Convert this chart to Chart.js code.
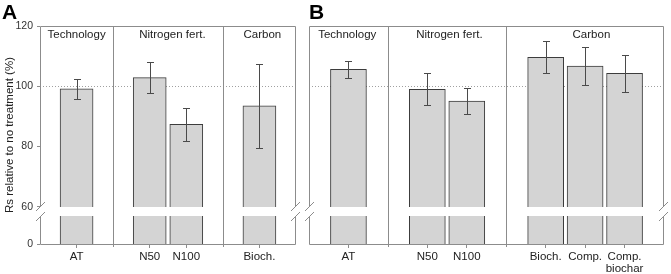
<!DOCTYPE html>
<html>
<head>
<meta charset="utf-8">
<script src="https://cdn.jsdelivr.net/npm/chart.js@4.4.1/dist/chart.umd.min.js"></script>
<style>
  html, body { margin: 0; padding: 0; background: #fff; }
  #wrap { position: relative; width: 671px; height: 274px; }
  .pane { position: absolute; top: 0; }
</style>
</head>
<body>
<div id="wrap">
  <div class="pane" style="left:0"><canvas id="chartA" width="300" height="274"></canvas></div>
  <div class="pane" style="left:300px"><canvas id="chartB" width="371" height="274"></canvas></div>
</div>
<script>
// --- data ---
const groupNames = ['Technology', 'Nitrogen fert.', 'Carbon'];

// panel A
const catsA = ['AT', 'N50', 'N100', 'Bioch.'];
const posA = [1, 3, 4, 6];            // slot positions on the x axis
const valsA = [99.2, 102.9, 87.4, 93.5];
const errA = [3.3, 5.0, 5.5, 13.8];
const sepsA = [2, 5];
const groupPosA = [1, 3.62, 6.08];

// panel B
const catsB = ['AT', 'N50', 'N100', 'Bioch.', 'Comp.', 'Comp.\nbiochar'];
const posB = [1, 3, 4, 6, 7, 8];
const valsB = [105.6, 99.0, 95.1, 109.6, 106.7, 104.3];
const errB = [2.8, 5.3, 4.3, 5.3, 6.2, 6.1];
const sepsB = [2, 5];
const groupPosB = [0.97, 3.56, 7.16];

// y axis: broken between 0 and 60
const Y_MIN = 47.7;                    // bottom of axis, labelled "0"
const yTickValues = [Y_MIN, 60, 80, 100, 120];
const yTickLabels = ['0', '60', '80', '100', '120'];
const BREAK = [57, 60];
const REF_LINE = 100;

const FONT = '"Liberation Sans", Arial, sans-serif';
const LINE = '#8c8c8c';

function seg(ctx, x1, y1, x2, y2) {
  ctx.beginPath(); ctx.moveTo(x1, y1); ctx.lineTo(x2, y2); ctx.stroke();
}

// dotted 100 line, error bars, axis break, group frames and labels
const panelDecor = {
  id: 'panelDecor',
  beforeDatasetsDraw(chart) {
    const { ctx, chartArea: a, scales: { y } } = chart;
    const yy = Math.round(y.getPixelForValue(REF_LINE)) + 0.5;
    ctx.save();
    ctx.strokeStyle = '#a0a0a0';
    ctx.lineWidth = 1;
    ctx.setLineDash([1, 2]);
    seg(ctx, a.left, yy, a.right, yy);
    ctx.restore();
  },
  afterDatasetsDraw(chart, args, o) {
    const { ctx, chartArea: a, scales: { x, y } } = chart;
    const ds = chart.data.datasets[0];
    ctx.save();
    ctx.lineWidth = 1;

    // error bars
    ctx.strokeStyle = '#4a4a4a';
    ds.data.forEach((d, i) => {
      const px = Math.round(x.getPixelForValue(d.x)) + 0.5;
      const hi = Math.round(y.getPixelForValue(d.y + o.errs[i])) + 0.5;
      const lo = Math.round(y.getPixelForValue(d.y - o.errs[i])) + 0.5;
      seg(ctx, px, hi, px, lo);
      seg(ctx, px - 3.5, hi, px + 3.5, hi);
      seg(ctx, px - 3.5, lo, px + 3.5, lo);
    });

    // white band of the axis break
    const bTop = Math.round(y.getPixelForValue(BREAK[1]));
    const bBot = Math.round(y.getPixelForValue(BREAK[0]));
    ctx.fillStyle = '#fff';
    ctx.fillRect(a.left, bTop, a.right - a.left, bBot - bTop);

    // group separators
    ctx.strokeStyle = LINE;
    o.seps.forEach(s => {
      const px = Math.round(x.getPixelForValue(s)) + 0.5;
      seg(ctx, px, a.top, px, a.bottom + 3);
    });

    // frame
    const L = Math.round(a.left) + 0.5, R = Math.round(a.right) - 0.5;
    const T = Math.round(a.top) + 0.5, B = Math.round(a.bottom) + 0.5;
    seg(ctx, L, T, R, T);
    seg(ctx, L, B, R, B);
    [L, R].forEach(px => {
      seg(ctx, px, T, px, bTop);
      seg(ctx, px, bBot, px, B);
      // break slashes
      seg(ctx, px - 4.5, bTop + 4, px + 4.5, bTop - 5);
      seg(ctx, px - 4.5, bBot + 5, px + 4.5, bBot - 4);
    });

    // group labels
    ctx.fillStyle = '#222';
    ctx.font = '11.5px ' + FONT;
    ctx.textAlign = 'center';
    ctx.textBaseline = 'middle';
    groupNames.forEach((g, i) => {
      ctx.fillText(g, x.getPixelForValue(o.groupPos[i]), a.top + 9);
    });

    // panel letter
    ctx.fillStyle = '#000';
    ctx.font = 'bold 21px ' + FONT;
    ctx.textAlign = 'left';
    ctx.textBaseline = 'alphabetic';
    ctx.fillText(o.letter, o.letterX, 18.5);
    ctx.restore();
  }
};

function makeChart(id, cats, pos, vals, errs, seps, groupPos, opts) {
  return new Chart(document.getElementById(id), {
    type: 'bar',
    data: {
      datasets: [{
        data: pos.map((p, i) => ({ x: p, y: vals[i] })),
        backgroundColor: '#d4d4d4',
        borderColor: '#3c3c3c',
        borderWidth: 1,
        borderSkipped: 'start',
        barThickness: opts.barThickness
      }]
    },
    plugins: [panelDecor],
    options: {
      responsive: false,
      animation: false,
      layout: { padding: opts.padding },
      scales: {
        x: {
          type: 'linear',
          offset: false,
          min: 0,
          max: opts.xMax,
          afterBuildTicks: s => { s.ticks = pos.map(v => ({ value: v })); },
          afterFit: s => { s.height = 30; },
          border: { display: false },
          grid: { offset: false, drawOnChartArea: false, tickLength: 4, color: LINE },
          ticks: {
            padding: 3,
            color: '#222',
            font: { family: FONT, size: 11.5, lineHeight: 1.05 },
            maxRotation: 0,
            autoSkip: false,
            callback: (v, i) => cats[i].split('\n')
          }
        },
        y: {
          display: opts.showY,
          min: Y_MIN,
          max: 120,
          afterBuildTicks: s => { s.ticks = yTickValues.map(v => ({ value: v })); },
          afterFit: s => { s.width = opts.showY ? 40 : 0; },
          border: { display: false },
          grid: { drawOnChartArea: false, tickLength: 3, color: LINE },
          ticks: {
            padding: 4,
            color: '#333',
            font: { family: FONT, size: 10.5 },
            callback: (v, i) => yTickLabels[i]
          },
          title: {
            display: true,
            text: 'Rs relative to no treatment (%)',
            color: '#222',
            font: { family: FONT, size: 11.5 },
            padding: { top: 3, bottom: 0 }
          }
        }
      },
      plugins: {
        legend: { display: false },
        tooltip: { enabled: false },
        panelDecor: {
          errs: errs, seps: seps, groupPos: groupPos,
          letter: opts.letter, letterX: opts.letterX
        }
      }
    }
  });
}

makeChart('chartA', catsA, posA, valsA, errA, sepsA, groupPosA, {
  letter: 'A', letterX: 2, xMax: 7, showY: true, barThickness: 33,
  padding: { top: 26, right: 4, left: 0, bottom: 0 }
});
makeChart('chartB', catsB, posB, valsB, errB, sepsB, groupPosB, {
  letter: 'B', letterX: 9, xMax: 9, showY: false, barThickness: 36,
  padding: { top: 26, right: 7, left: 9, bottom: 0 }
});
</script>
</body>
</html>
